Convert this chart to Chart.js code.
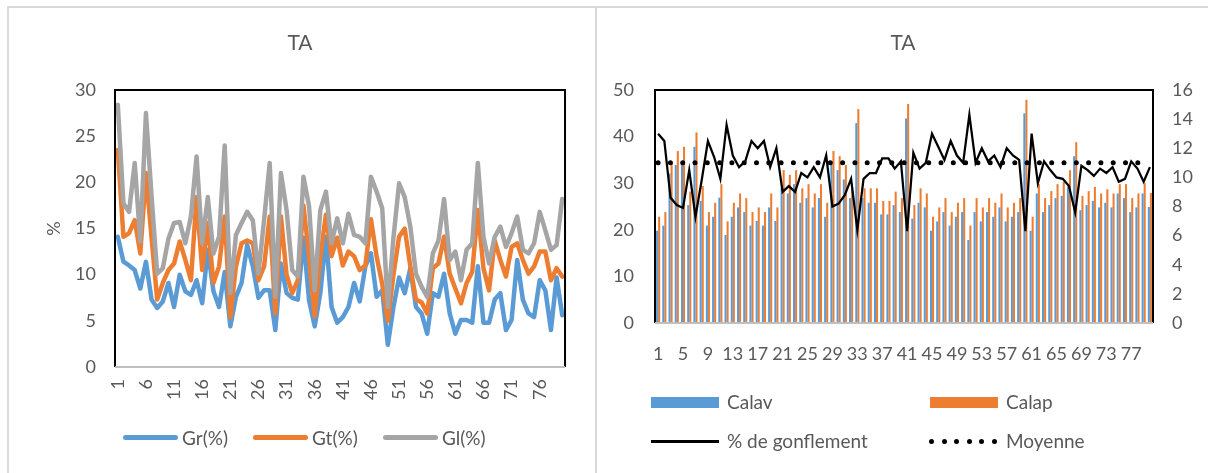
<!DOCTYPE html>
<html>
<head>
<meta charset="utf-8">
<title>TA</title>
<script src="https://cdn.jsdelivr.net/npm/chart.js@4.4.0/dist/chart.umd.min.js"></script>
<style>
  body { margin: 0; width: 1208px; height: 473px; overflow: hidden; position: relative; background: #fff;
         font-family: Lato, "Noto Sans", sans-serif; color: #595959; }
  .panel { position: absolute; top: 6px; height: 480px; border: 2px solid #d9d9d9; box-sizing: border-box; }
  canvas { position: absolute; top: 0; }
  .title { position: absolute; top: 29px; width: 100px; margin-left: -50px; text-align: center; font-size: 21px; line-height: 25px; }
  .txt { position: absolute; font-size: 19px; line-height: 20px; margin-top: -10px; white-space: nowrap; }
  .sw { position: absolute; }
  .dot { position: absolute; width: 5px; height: 5px; border-radius: 50%; background: #000; }
</style>
</head>
<body>
<div class="panel" style="left:7px; width:590px;"></div>
<div class="panel" style="left:595px; width:630px;"></div>

<canvas id="chartG" width="596" height="473" style="left:0"></canvas>
<canvas id="chartCal" width="612" height="473" style="left:596px"></canvas>

<div class="title" style="left:300px">TA</div>
<div class="title" style="left:903px">TA</div>

<!-- legend, left chart -->
<div class="sw" style="left:123px; top:435px; width:55px; height:5px; border-radius:3px; background:#5b9bd5"></div>
<div class="txt" style="left:182px; top:438px">Gr(%)</div>
<div class="sw" style="left:253px; top:435px; width:55px; height:5px; border-radius:3px; background:#ed7d31"></div>
<div class="txt" style="left:312px; top:438px">Gt(%)</div>
<div class="sw" style="left:383px; top:435px; width:55px; height:5px; border-radius:3px; background:#a5a5a5"></div>
<div class="txt" style="left:442px; top:438px">Gl(%)</div>

<!-- legend, right chart -->
<div class="sw" style="left:651px; top:397px; width:68px; height:11px; background:#5b9bd5"></div>
<div class="txt" style="left:727px; top:402px">Calav</div>
<div class="sw" style="left:930px; top:397px; width:68px; height:11px; background:#ed7d31"></div>
<div class="txt" style="left:1006px; top:402px">Calap</div>
<div class="sw" style="left:651px; top:440px; width:68px; height:2.5px; background:#000"></div>
<div class="txt" style="left:727px; top:441px">% de gonflement</div>
<div id="dots"></div>
<div class="txt" style="left:1006px; top:441px">Moyenne</div>

<script>
// sample numbers 1..80
const samples = Array.from({ length: 80 }, (_, i) => String(i + 1));

// left chart : Gr, Gt, Gl in %
const gr = [14.1, 11.4, 11.0, 10.5, 8.5, 11.4, 7.3, 6.4, 7.1, 9.1,
            6.5, 10.0, 8.2, 7.8, 9.4, 6.9, 12.7, 8.2, 6.5, 10.3,
            4.4, 7.6, 9.1, 13.2, 10.9, 7.5, 8.3, 8.3, 4.0, 11.2,
            8.0, 7.5, 7.3, 14.0, 7.2, 4.4, 8.0, 14.1, 6.5, 4.8,
            5.4, 6.5, 9.1, 7.1, 10.9, 12.3, 7.6, 8.3, 2.4, 6.5,
            9.7, 8.0, 10.7, 6.5, 5.8, 3.6, 8.0, 7.6, 10.1, 5.8,
            3.6, 5.1, 5.1, 4.8, 10.9, 4.8, 4.8, 7.3, 8.0, 4.0,
            5.1, 11.6, 7.3, 5.8, 5.4, 9.4, 8.3, 4.0, 9.7, 5.6];
const gt = [23.5, 14.1, 14.5, 15.9, 12.3, 21.0, 14.0, 7.3, 9.1, 10.5,
            11.2, 13.6, 11.6, 9.4, 18.4, 10.5, 15.6, 9.1, 10.9, 16.3,
            5.4, 10.9, 13.4, 13.7, 13.4, 9.4, 10.9, 16.3, 5.8, 16.3,
            10.0, 8.0, 9.4, 17.5, 12.0, 5.5, 12.0, 16.5, 12.0, 14.0,
            11.0, 12.5, 12.0, 10.5, 11.0, 16.0, 12.0, 9.0, 5.0, 10.0,
            14.1, 15.0, 10.9, 7.3, 7.0, 5.8, 10.7, 11.2, 14.1, 10.1,
            8.5, 6.9, 9.1, 10.3, 17.0, 10.7, 8.3, 13.7, 11.6, 9.8,
            13.0, 13.4, 11.6, 10.1, 10.9, 12.5, 12.5, 9.4, 10.7, 9.8];
const gl = [28.4, 17.7, 16.8, 22.1, 13.6, 27.5, 18.5, 10.1, 10.7, 13.9,
            15.6, 15.7, 13.4, 16.3, 22.8, 13.4, 18.4, 12.3, 14.1, 24.0,
            8.0, 14.3, 15.6, 16.8, 15.9, 10.1, 15.9, 22.1, 7.6, 21.0,
            17.0, 10.5, 9.8, 20.6, 17.4, 8.3, 17.0, 19.0, 13.4, 16.1,
            13.4, 16.6, 14.3, 14.1, 13.4, 20.6, 19.0, 17.2, 6.5, 14.0,
            19.9, 18.4, 15.2, 10.1, 8.7, 7.6, 12.3, 13.7, 18.2, 11.6,
            12.5, 9.4, 12.7, 13.4, 22.1, 14.1, 11.2, 14.1, 15.2, 13.0,
            14.5, 16.3, 12.7, 12.3, 13.4, 16.8, 14.8, 12.7, 13.2, 18.2];

// right chart : Calav / Calap (left axis), % de gonflement and its mean (right axis)
const calav = [19.8, 20.9, 32.1, 33.9, 33.9, 25.3, 37.8, 26.2, 20.9, 22.8,
               26.9, 18.9, 22.8, 24.8, 23.8, 20.9, 21.9, 20.9, 24.8, 21.9,
               28.9, 27.8, 29.8, 25.8, 26.8, 24.8, 26.8, 22.8, 33.9, 32.8,
               30.8, 26.8, 42.9, 26.8, 25.8, 25.8, 23.3, 23.3, 25.3, 23.8,
               43.9, 22.4, 25.8, 24.8, 19.8, 21.8, 23.8, 20.9, 22.8, 23.8,
               17.8, 23.8, 21.8, 23.8, 22.8, 24.8, 21.8, 22.8, 23.8, 45.0,
               19.8, 27.8, 23.8, 25.3, 26.8, 27.3, 29.3, 35.8, 24.2, 25.3,
               26.2, 24.8, 25.8, 24.8, 27.8, 26.8, 23.8, 24.8, 27.8, 24.9];
const calap = [22.8, 23.8, 34.3, 36.9, 37.8, 28.2, 40.9, 29.4, 23.8, 25.8,
               29.8, 21.8, 25.8, 27.8, 26.8, 23.8, 24.8, 23.8, 27.8, 24.8,
               32.8, 31.8, 32.8, 28.9, 29.8, 27.8, 29.8, 25.8, 36.9, 35.8,
               33.9, 28.9, 45.9, 28.9, 28.9, 28.9, 26.2, 26.2, 28.2, 26.8,
               47.0, 25.3, 28.9, 27.8, 22.8, 24.8, 26.8, 23.8, 25.8, 26.8,
               20.9, 26.8, 24.8, 26.8, 25.8, 27.8, 24.8, 25.8, 26.8, 47.9,
               22.8, 29.8, 26.8, 28.3, 29.8, 30.3, 32.8, 38.8, 27.3, 28.3,
               29.2, 27.8, 28.7, 27.8, 29.8, 29.8, 26.8, 27.8, 30.0, 27.9];
const gonflement = [13.0, 12.5, 8.6, 8.1, 7.9, 10.5, 7.3, 9.8, 12.5, 11.4,
                    9.9, 13.6, 11.5, 10.7, 11.1, 12.5, 12.0, 12.5, 10.7, 12.0,
                    9.0, 9.4, 9.0, 10.3, 10.0, 10.7, 10.0, 11.5, 8.0, 8.2,
                    8.8, 9.9, 6.4, 9.9, 10.3, 10.3, 11.3, 11.3, 10.6, 11.1,
                    6.3, 11.7, 10.6, 11.0, 13.0, 12.1, 11.2, 12.5, 11.5, 11.0,
                    14.3, 11.0, 12.0, 11.1, 11.5, 10.7, 12.0, 11.5, 11.2, 6.3,
                    13.0, 9.6, 11.1, 10.5, 10.0, 9.9, 9.4, 7.6, 10.8, 10.5,
                    10.1, 10.6, 10.3, 10.7, 9.7, 9.9, 11.1, 10.6, 9.7, 10.7];
const moyenne = 11.0;

const grey = '#595959';
const tickFont = { family: 'Lato', size: 18 };
Chart.defaults.color = grey;
Chart.defaults.font.family = 'Lato';

// black frame round the plot area, grey line along the bottom axis
const plotFrame = {
  id: 'plotFrame',
  afterDatasetsDraw(chart) {
    const { ctx, chartArea: a } = chart;
    ctx.save();
    ctx.lineWidth = 2;
    ctx.strokeStyle = '#000';
    ctx.beginPath();
    ctx.moveTo(a.left, a.bottom);
    ctx.lineTo(a.left, a.top);
    ctx.lineTo(a.right, a.top);
    ctx.lineTo(a.right, a.bottom);
    ctx.stroke();
    ctx.strokeStyle = '#bfbfbf';
    ctx.beginPath();
    ctx.moveTo(a.left, a.bottom);
    ctx.lineTo(a.right, a.bottom);
    ctx.stroke();
    ctx.restore();
  }
};

const noGrid = { display: false, drawTicks: false };

function lineSet(label, data, color, order) {
  return { label, data, borderColor: color, backgroundColor: color, borderWidth: 4.5,
           pointRadius: 0, tension: 0, borderJoinStyle: 'round', borderCapStyle: 'round', order };
}

new Chart(document.getElementById('chartG'), {
  type: 'line',
  data: {
    labels: samples,
    datasets: [
      lineSet('Gr(%)', gr, '#5b9bd5', 2),
      lineSet('Gt(%)', gt, '#ed7d31', 1),
      lineSet('Gl(%)', gl, '#a5a5a5', 0)
    ]
  },
  options: {
    responsive: false,
    animation: false,
    devicePixelRatio: 1,
    layout: { padding: { left: 0, right: 30, top: 90, bottom: 56 } },
    plugins: { legend: { display: false }, tooltip: { enabled: false } },
    scales: {
      x: {
        offset: true,
        grid: noGrid,
        border: { display: false },
        ticks: {
          autoSkip: false, minRotation: 90, maxRotation: 90, padding: 12, font: tickFont,
          callback: (v, i) => (i % 5 === 0 ? samples[i] : '')
        },
        afterFit: s => { s.height = 50; }
      },
      y: {
        min: 0, max: 30,
        grid: noGrid,
        border: { display: false },
        ticks: { stepSize: 5, padding: 19, font: tickFont },
        title: { display: true, text: '%', font: { family: 'Lato', size: 18 }, padding: { top: 43, bottom: 0 } },
        afterFit: s => { s.width = 115; }
      }
    }
  },
  plugins: [plotFrame]
});

new Chart(document.getElementById('chartCal'), {
  data: {
    labels: samples,
    datasets: [
      { type: 'bar', label: 'Calav', data: calav, backgroundColor: '#5b9bd5', yAxisID: 'y', order: 1,
        barPercentage: 1, categoryPercentage: 0.66 },
      { type: 'bar', label: 'Calap', data: calap, backgroundColor: '#ed7d31', yAxisID: 'y', order: 1,
        barPercentage: 1, categoryPercentage: 0.66 },
      { type: 'line', label: '% de gonflement', data: gonflement, borderColor: '#000', borderWidth: 2.25,
        pointRadius: 0, tension: 0, yAxisID: 'y2', order: 0 },
      { type: 'line', label: 'Moyenne', data: samples.map(() => moyenne), borderColor: '#000', borderWidth: 5,
        borderDash: [0, 12.3], borderCapStyle: 'round', pointRadius: 0, yAxisID: 'y2', order: 0 }
    ]
  },
  options: {
    responsive: false,
    animation: false,
    devicePixelRatio: 1,
    layout: { padding: { left: 0, right: 0, top: 90, bottom: 100 } },
    plugins: { legend: { display: false }, tooltip: { enabled: false } },
    scales: {
      x: {
        grid: noGrid,
        border: { display: false },
        ticks: {
          autoSkip: false, minRotation: 0, maxRotation: 0, padding: 20, font: tickFont,
          callback: (v, i) => (i % 4 === 0 ? samples[i] : '')
        },
        afterFit: s => { s.height = 50; }
      },
      y: {
        position: 'left',
        min: 0, max: 50,
        grid: noGrid,
        border: { display: false },
        ticks: { stepSize: 10, padding: 21, font: tickFont },
        afterFit: s => { s.width = 59; }
      },
      y2: {
        position: 'right',
        min: 0, max: 16,
        grid: noGrid,
        border: { display: false },
        ticks: { stepSize: 2, padding: 19, font: tickFont },
        afterFit: s => { s.width = 55; }
      }
    }
  },
  plugins: [plotFrame]
});

// dotted swatch for the Moyenne legend entry
const dots = document.getElementById('dots');
for (let k = 0; k < 6; k++) {
  const d = document.createElement('div');
  d.className = 'dot';
  d.style.left = (929 + k * 12.5) + 'px';
  d.style.top = '438.5px';
  dots.appendChild(d);
}
</script>
</body>
</html>
